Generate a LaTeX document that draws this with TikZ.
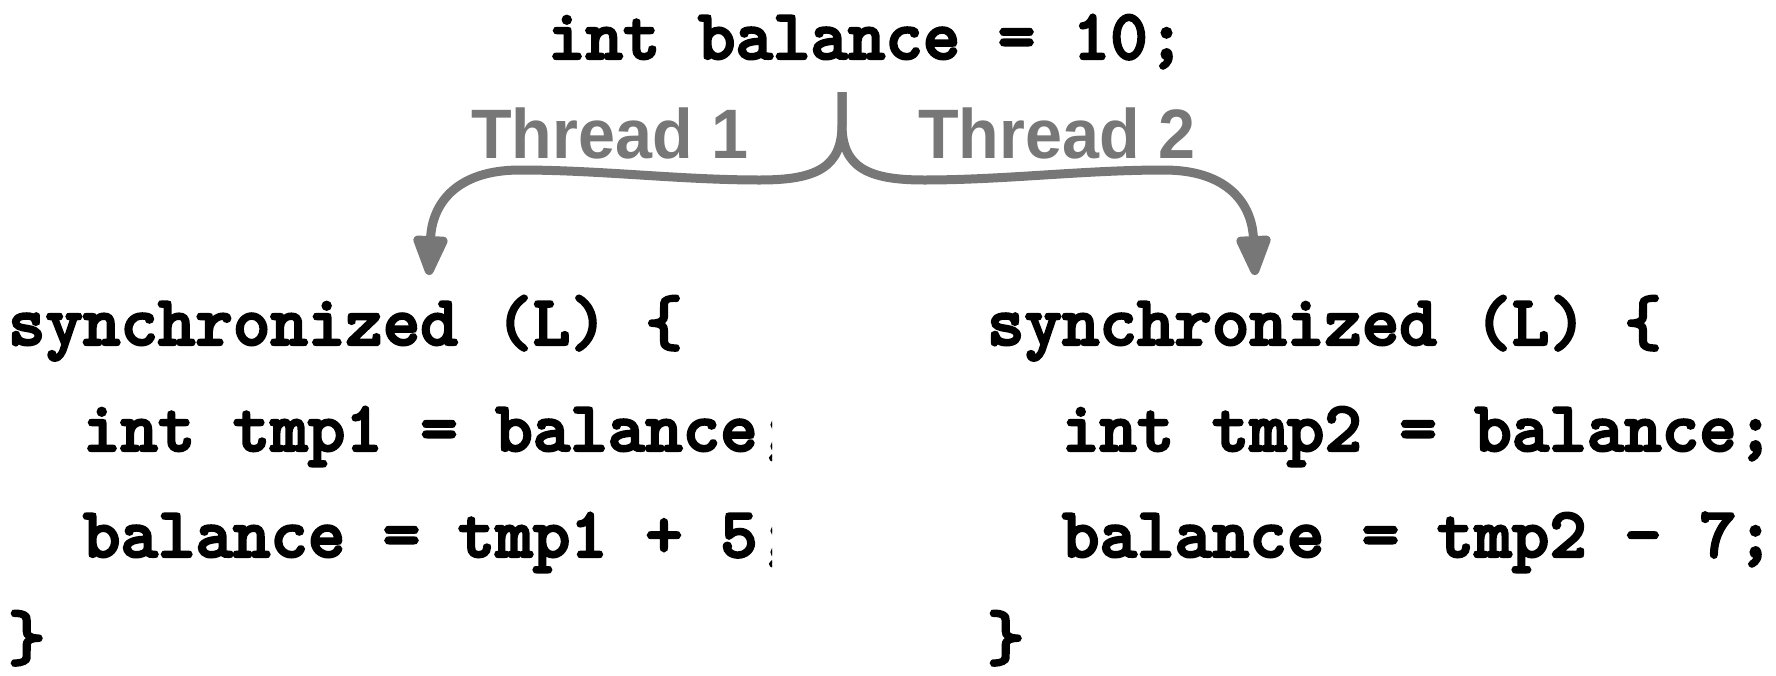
\documentclass[tikz,border=0pt]{standalone}
\usepackage{fontspec}
\usetikzlibrary{arrows.meta}
\newfontfamily\labfont{Liberation Sans}[BoldFont={* Bold}]
\newfontfamily\codefont{lmmonolt10-bold}[Extension=.otf, FakeBold=3]
\definecolor{threadgray}{HTML}{777777}
\tikzset{
  code/.style={anchor=base west, inner sep=0pt, outer sep=0pt,
    font=\codefont\fontsize{71.4}{71.4}\selectfont, text=black},
  threadlab/.style={anchor=base west, inner sep=0pt, outer sep=0pt,
    font=\labfont\bfseries\fontsize{70}{70}\selectfont, text=threadgray},
  flow/.style={draw=threadgray, line width=9pt,
    -{Triangle[length=47pt, width=36pt, round]}},
}
\newcommand{\thlab}[1]{\scalebox{0.95}[1]{#1}}
\begin{document}
\begin{tikzpicture}[x=1pt, y=-1pt]
\useasboundingbox (0,0) rectangle (1776,675);
% top statement
\node[code] (top) at (548,59) {int balance = 10;};
% thread labels
\node[threadlab] (t1) at (471,158) {\thlab{Thread 1}};
\node[threadlab] (t2) at (918,158) {\thlab{Thread 2}};
% left block (clipped)
\begin{scope}
\clip (0,250) rectangle (772,675);
\node[code] (l1) at (8,345) {synchronized (L) \{};
\node[code] (l2) at (8,451) {\ \ int tmp1 = balance;};
\node[code] (l3) at (8,557) {\ \ balance = tmp1 + 5;};
\node[code] (l4) at (8,660) {\}};
\end{scope}
% right block
\node[code] (r1) at (987,345) {synchronized (L) \{};
\node[code] (r2) at (987,451) {\ \ int tmp2 = balance;};
\node[code] (r3) at (987,557) {\ \ balance = tmp2 - 7;};
\node[code] (r4) at (987,660) {\}};
% connectors
\coordinate (fork) at (842,92);
\coordinate (tipL) at (429,275);
\coordinate (tipR) at (1255,275);
\draw[flow] (fork) -- ++(0,33) .. controls +(0,43) and (815,180) .. (760,180)
  .. controls (680,180) and (600,170) .. (520,170)
  .. controls (455,170) and (432,205) .. (tipL);
\draw[flow] (fork) -- ++(0,33) .. controls +(0,43) and (869,180) .. (924,180)
  .. controls (1004,180) and (1084,170) .. (1164,170)
  .. controls (1229,170) and (1252,205) .. (tipR);
\end{tikzpicture}
\end{document}
